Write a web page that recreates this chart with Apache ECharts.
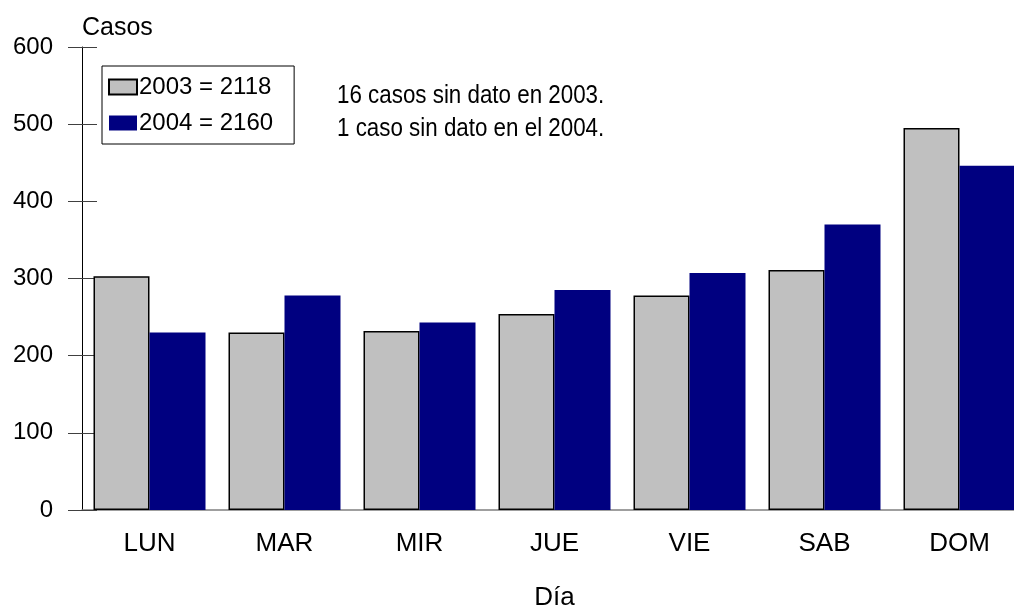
<!DOCTYPE html>
<html>
<head>
<meta charset="utf-8">
<title>Casos por día</title>
<script src="https://cdn.jsdelivr.net/npm/echarts@6/dist/echarts.min.js"></script>
<style>
  html, body { margin: 0; padding: 0; background: #fff; }
  #chart { width: 1014px; height: 611px; }
</style>
</head>
<body>
<div id="chart"></div>
<script>
// datos
const dias = ['LUN', 'MAR', 'MIR', 'JUE', 'VIE', 'SAB', 'DOM'];
const casos2003 = [303, 230, 232, 254, 278, 311, 495];
const casos2004 = [230, 278, 243, 285, 307, 370, 446];
const nombres = ['2003 = 2118', '2004 = 2160'];
const notas = ['16 casos sin dato en 2003.', '1 caso sin dato en el 2004.'];

const fuente = "'Liberation Sans', Arial, sans-serif";

const myChart = echarts.init(document.getElementById('chart'));
myChart.setOption({
  animation: false,
  textStyle: { fontFamily: fuente },
  // la ultima barra queda cortada por el borde derecho
  grid: { left: 82, top: 47, width: 945, height: 463, outerBoundsMode: 'none' },
  legend: {
    orient: 'vertical',
    left: 102,
    top: 66,
    padding: [8, 21, 8, 6],
    itemGap: 10,
    itemWidth: 28,
    itemHeight: 15,
    icon: 'rect',
    borderColor: '#000',
    borderWidth: 1,
    textStyle: { fontSize: 24, color: '#000', lineHeight: 26, padding: [0, 0, 0, -3] },
    data: nombres
  },
  graphic: [{
    type: 'text',
    x: 337,
    y: 79,
    scaleX: 0.86,
    style: {
      text: notas.join('\n'),
      font: "26px " + fuente,
      lineHeight: 33,
      fill: '#000'
    }
  }],
  xAxis: {
    type: 'category',
    data: dias,
    name: 'Día',
    nameLocation: 'middle',
    nameGap: 75,
    nameTextStyle: { fontSize: 26, color: '#000' },
    axisLine: { lineStyle: { color: '#808080', width: 1.5 } },
    axisTick: { alignWithLabel: true, length: 15, lineStyle: { color: '#808080' } },
    axisLabel: { fontSize: 26, color: '#000', margin: 21 }
  },
  yAxis: [{
    type: 'value',
    min: 0,
    max: 600,
    interval: 100,
    name: 'Casos',
    nameGap: 19,
    nameTextStyle: { fontSize: 25, color: '#000', align: 'left', verticalAlign: 'middle' },
    axisLine: { show: true, lineStyle: { color: '#000' } },
    axisTick: { show: true, length: 14, lineStyle: { color: '#404040' } },
    axisLabel: { fontSize: 24, color: '#000', margin: 29 },
    splitLine: { show: false }
  }, {
    // ticks hacia dentro, para que crucen el eje
    type: 'value',
    position: 'left',
    min: 0,
    max: 600,
    interval: 100,
    axisLine: { show: false },
    axisTick: { show: true, inside: true, length: 15, lineStyle: { color: '#404040' } },
    axisLabel: { show: false },
    splitLine: { show: false }
  }],
  series: [
    {
      name: nombres[0],
      type: 'bar',
      data: casos2003,
      barWidth: 56,
      barGap: 0,
      itemStyle: { color: '#C0C0C0', borderColor: '#000', borderWidth: 1.5 }
    },
    {
      name: nombres[1],
      type: 'bar',
      data: casos2004,
      barWidth: 56,
      itemStyle: { color: '#000080' }
    }
  ]
});
</script>
</body>
</html>
